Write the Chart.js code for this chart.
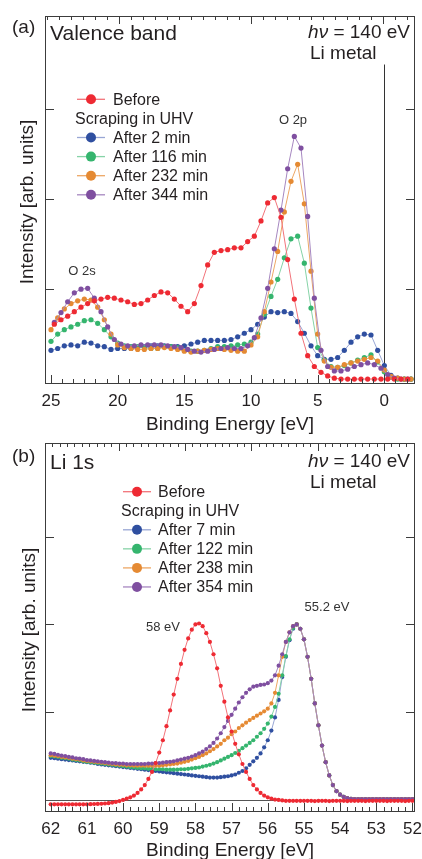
<!DOCTYPE html>
<html>
<head>
<meta charset="utf-8">
<script src="https://cdn.jsdelivr.net/npm/chart.js@4.4.1/dist/chart.umd.min.js"></script>
<style>
  html, body { margin: 0; padding: 0; background: #fff; overflow: hidden; }
  #wrap { position: relative; width: 422px; height: 859px; }
  canvas { position: absolute; left: 0; }
</style>
</head>
<body>
<div id="wrap">
  <canvas id="chartA" width="422" height="445" style="top:0;width:422px;height:445px;z-index:1"></canvas>
  <canvas id="chartB" width="422" height="429" style="top:430px;width:422px;height:429px;z-index:2"></canvas>
</div>
<script>
// ---------- panel (a): valence band ----------
const energyA = [25, 24.5, 24, 23.5, 23, 22.5, 22, 21.5, 21, 20.5,
  20, 19.5, 19, 18.5, 18, 17.5, 17, 16.5, 16, 15.5,
  15, 14.5, 14, 13.5, 13, 12.5, 12, 11.5, 11, 10.5,
  10, 9.5, 9, 8.5, 8, 7.5, 7, 6.5, 6, 5.5,
  5, 4.5, 4, 3.5, 3, 2.5, 2, 1.5, 1, 0.5,
  0, -0.5, -1, -1.5, -2];
const energyAShift = [24.75, 24.25, 23.75, 23.25, 22.75, 22.25, 21.75, 21.25, 20.75, 20.25,
  19.75, 19.25, 18.75, 18.25, 17.75, 17.25, 16.75, 16.25, 15.75, 15.25,
  14.75, 14.25, 13.75, 13.25, 12.75, 12.25, 11.75, 11.25, 10.75, 10.25,
  9.75, 9.25, 8.75, 8.25, 7.75, 7.25, 6.75, 6.25, 5.75, 5.25,
  4.75, 4.25, 3.75, 3.25, 2.75, 2.25, 1.75, 1.25, 0.75, 0.25,
  -0.25, -0.75, -1.25, -1.75];

const beforeA = [0.61, 0.66, 0.70, 0.75, 0.80, 0.84, 0.87, 0.89, 0.91, 0.90,
  0.88, 0.86, 0.83, 0.84, 0.88, 0.93, 0.97, 0.96, 0.89, 0.81,
  0.75, 0.84, 1.04, 1.27, 1.41, 1.43, 1.44, 1.46, 1.46, 1.53,
  1.59, 1.76, 1.96, 2.02, 1.80, 1.33, 0.89, 0.51, 0.26, 0.14,
  0.075, 0.035, 0.01, 0, 0, 0, 0, 0, 0, 0,
  0, 0, 0, 0];
const after2A = [0.32, 0.34, 0.37, 0.38, 0.37, 0.41, 0.40, 0.37, 0.36, 0.33,
  0.34, 0.34, 0.34, 0.35, 0.36, 0.37, 0.37, 0.37, 0.36, 0.36,
  0.37, 0.39, 0.41, 0.43, 0.43, 0.43, 0.43, 0.44, 0.47, 0.51,
  0.55, 0.61, 0.69, 0.75, 0.74, 0.75, 0.73, 0.64, 0.51, 0.37,
  0.26, 0.22, 0.22, 0.24, 0.32, 0.41, 0.47, 0.50, 0.49, 0.32,
  0.15, 0.04, 0.01, 0, 0];
const after116A = [0.42, 0.50, 0.55, 0.58, 0.61, 0.65, 0.66, 0.62, 0.55, 0.47,
  0.40, 0.37, 0.36, 0.36, 0.35, 0.34, 0.34, 0.36, 0.36, 0.35,
  0.32, 0.31, 0.31, 0.32, 0.34, 0.36, 0.36, 0.37, 0.38, 0.39,
  0.41, 0.50, 0.72, 0.92, 1.11, 1.35, 1.56, 1.59, 1.29, 0.79,
  0.35, 0.21, 0.14, 0.13, 0.15, 0.18, 0.21, 0.24, 0.27, 0.19,
  0.08, 0.02, 0, 0, 0];
const after232A = [0.55, 0.68, 0.78, 0.84, 0.87, 0.89, 0.88, 0.80, 0.66, 0.50,
  0.38, 0.35, 0.34, 0.33, 0.33, 0.34, 0.34, 0.35, 0.34, 0.33,
  0.31, 0.30, 0.31, 0.32, 0.33, 0.34, 0.33, 0.32, 0.31, 0.31,
  0.38, 0.47, 0.75, 1.08, 1.42, 1.86, 2.20, 2.39, 1.95, 1.20,
  0.50, 0.20, 0.13, 0.13, 0.16, 0.18, 0.20, 0.22, 0.24, 0.20,
  0.10, 0.03, 0.01, 0, 0];
const after344A = [0.63, 0.74, 0.86, 0.96, 1.00, 1.01, 0.90, 0.75, 0.58, 0.44,
  0.39, 0.37, 0.37, 0.38, 0.38, 0.38, 0.38, 0.37, 0.36, 0.35,
  0.33, 0.31, 0.30, 0.31, 0.33, 0.34, 0.35, 0.34, 0.34, 0.37,
  0.46, 0.68, 1.01, 1.45, 1.88, 2.34, 2.70, 2.57, 1.81, 0.90,
  0.32, 0.14, 0.09, 0.09, 0.11, 0.14, 0.16, 0.18, 0.16, 0.12,
  0.05, 0.01, 0, 0];

const labelsA = ["Before", "After 2 min", "After 116 min", "After 232 min", "After 344 min"];
const xTickLabelsA = [25, 20, 15, 10, 5, 0];

// ---------- panel (b): Li 1s ----------
const energyB = [62.0, 61.9, 61.8, 61.7, 61.6, 61.5, 61.4, 61.3, 61.2, 61.1,
  61.0, 60.9, 60.8, 60.7, 60.6, 60.5, 60.4, 60.3, 60.2, 60.1,
  60.0, 59.9, 59.8, 59.7, 59.6, 59.5, 59.4, 59.3, 59.2, 59.1,
  59.0, 58.9, 58.8, 58.7, 58.6, 58.5, 58.4, 58.3, 58.2, 58.1,
  58.0, 57.9, 57.8, 57.7, 57.6, 57.5, 57.4, 57.3, 57.2, 57.1,
  57.0, 56.9, 56.8, 56.7, 56.6, 56.5, 56.4, 56.3, 56.2, 56.1,
  56.0, 55.9, 55.8, 55.7, 55.6, 55.5, 55.4, 55.3, 55.2, 55.1,
  55.0, 54.9, 54.8, 54.7, 54.6, 54.5, 54.4, 54.3, 54.2, 54.1,
  54.0, 53.9, 53.8, 53.7, 53.6, 53.5, 53.4, 53.3, 53.2, 53.1,
  53.0, 52.9, 52.8, 52.7, 52.6, 52.5, 52.4, 52.3, 52.2, 52.1,
  52.0];

const beforeB = [-0.05, -0.05, -0.05, -0.05, -0.05, -0.05, -0.05, -0.05, -0.05, -0.05,
  -0.05, -0.048, -0.046, -0.045, -0.043, -0.04, -0.036, -0.03, -0.022, -0.012,
  0.0, 0.015, 0.03, 0.05, 0.08, 0.12, 0.17, 0.24, 0.32, 0.42,
  0.54, 0.68, 0.84, 1.02, 1.20, 1.38, 1.55, 1.71, 1.84, 1.94,
  2.00, 2.01, 1.98, 1.90, 1.80, 1.66, 1.50, 1.30, 1.12, 0.94,
  0.78, 0.64, 0.52, 0.41, 0.32, 0.24, 0.17, 0.12, 0.08, 0.05,
  0.03, 0.015, 0.005, 0.0, -0.005, -0.01, -0.01, -0.01, -0.01, -0.01,
  -0.01, -0.01, -0.01, -0.012, -0.01, -0.01, -0.01, -0.012, -0.01, -0.01,
  -0.01, -0.01, -0.012, -0.01, -0.01, -0.01, -0.01, -0.012, -0.01, -0.01,
  -0.01, -0.01, -0.01, -0.012, -0.01, -0.01, -0.01, -0.01, -0.012, -0.01,
  -0.01];
const after7B = [0.48, 0.475, 0.47, 0.465, 0.46, 0.455, 0.45, 0.445, 0.44, 0.435,
  0.43, 0.425, 0.42, 0.41, 0.405, 0.40, 0.395, 0.39, 0.385, 0.38,
  0.375, 0.37, 0.365, 0.36, 0.355, 0.35, 0.345, 0.34, 0.335, 0.33,
  0.325, 0.32, 0.315, 0.31, 0.305, 0.30, 0.295, 0.29, 0.285, 0.28,
  0.275, 0.27, 0.265, 0.26, 0.255, 0.255, 0.255, 0.26, 0.265, 0.27,
  0.28, 0.29, 0.31, 0.33, 0.36, 0.40, 0.44, 0.48, 0.53, 0.60,
  0.68, 0.79, 0.94, 1.14, 1.40, 1.63, 1.82, 1.95, 2.00, 1.95,
  1.83, 1.63, 1.38, 1.10, 0.85, 0.62, 0.43, 0.28, 0.17, 0.10,
  0.06, 0.035, 0.02, 0.012, 0.01, 0.01, 0.01, 0.01, 0.01, 0.01,
  0.01, 0.01, 0.01, 0.01, 0.01, 0.01, 0.01, 0.01, 0.01, 0.01,
  0.01];
const after122B = [0.50, 0.495, 0.49, 0.48, 0.475, 0.47, 0.46, 0.455, 0.45, 0.44,
  0.435, 0.43, 0.425, 0.42, 0.415, 0.41, 0.405, 0.40, 0.395, 0.39,
  0.385, 0.38, 0.375, 0.37, 0.365, 0.36, 0.36, 0.355, 0.355, 0.35,
  0.35, 0.35, 0.345, 0.345, 0.345, 0.345, 0.35, 0.35, 0.355, 0.36,
  0.365, 0.37, 0.38, 0.39, 0.40, 0.415, 0.43, 0.45, 0.47, 0.49,
  0.51, 0.535, 0.56, 0.59, 0.62, 0.65, 0.68, 0.72, 0.76, 0.81,
  0.87, 0.95, 1.06, 1.21, 1.42, 1.64, 1.83, 1.96, 2.00, 1.95,
  1.83, 1.63, 1.38, 1.10, 0.85, 0.62, 0.43, 0.28, 0.17, 0.10,
  0.06, 0.035, 0.02, 0.012, 0.01, 0.01, 0.01, 0.01, 0.01, 0.01,
  0.01, 0.01, 0.01, 0.01, 0.01, 0.01, 0.01, 0.01, 0.01, 0.01,
  0.01];
const after238B = [0.51, 0.505, 0.50, 0.49, 0.485, 0.48, 0.47, 0.465, 0.46, 0.45,
  0.445, 0.44, 0.435, 0.43, 0.425, 0.42, 0.415, 0.41, 0.405, 0.40,
  0.40, 0.395, 0.395, 0.39, 0.39, 0.39, 0.39, 0.39, 0.39, 0.39,
  0.39, 0.395, 0.40, 0.405, 0.41, 0.415, 0.425, 0.435, 0.445, 0.46,
  0.475, 0.49, 0.51, 0.53, 0.555, 0.58, 0.61, 0.64, 0.68, 0.71,
  0.75, 0.78, 0.82, 0.85, 0.88, 0.91, 0.935, 0.96, 0.985, 1.01,
  1.04, 1.10, 1.22, 1.42, 1.63, 1.80, 1.91, 1.98, 2.00, 1.95,
  1.83, 1.63, 1.38, 1.10, 0.85, 0.62, 0.43, 0.28, 0.17, 0.10,
  0.06, 0.035, 0.02, 0.012, 0.01, 0.01, 0.01, 0.01, 0.01, 0.01,
  0.01, 0.01, 0.01, 0.01, 0.01, 0.01, 0.01, 0.01, 0.01, 0.01,
  0.01];
const after354B = [0.53, 0.525, 0.515, 0.505, 0.50, 0.49, 0.485, 0.475, 0.47, 0.465,
  0.455, 0.45, 0.445, 0.44, 0.435, 0.43, 0.425, 0.42, 0.42, 0.415,
  0.415, 0.41, 0.41, 0.41, 0.41, 0.41, 0.41, 0.415, 0.415, 0.42,
  0.42, 0.425, 0.43, 0.435, 0.44, 0.45, 0.46, 0.47, 0.48, 0.495,
  0.51, 0.53, 0.55, 0.58, 0.61, 0.65, 0.70, 0.76, 0.83, 0.90,
  0.97, 1.04, 1.11, 1.17, 1.22, 1.26, 1.29, 1.30, 1.31, 1.315,
  1.33, 1.36, 1.42, 1.53, 1.66, 1.80, 1.91, 1.98, 2.00, 1.95,
  1.83, 1.63, 1.38, 1.10, 0.85, 0.62, 0.43, 0.28, 0.17, 0.10,
  0.06, 0.035, 0.02, 0.012, 0.01, 0.01, 0.01, 0.01, 0.01, 0.01,
  0.01, 0.01, 0.01, 0.01, 0.01, 0.01, 0.01, 0.01, 0.01, 0.01,
  0.01];

const labelsB = ["Before", "After 7 min", "After 122 min", "After 238 min", "After 354 min"];
const xTickLabelsB = [62, 61, 60, 59, 58, 57, 56, 55, 54, 53, 52];
const yTicks = [1, 2, 3];

// ---------- styling ----------
const FONT = '"Liberation Sans", Arial, Helvetica, sans-serif';
const TEXT = "#231f20";
const FRAME = "#3c3c3c";
// order: before, 1st, 2nd, 3rd, 4th scraping
const colors = ["#ee2a33", "#2f4fa0", "#35b56e", "#e58a33", "#7f4fa0"];
const lineColors = ["#f2737a", "#98a6d4", "#86d3a7", "#eda765", "#a687c0"];

function series(xs, ys, i, r) {
  return {
    label: i,
    data: xs.map((x, k) => ({ x: x, y: ys[k] })),
    borderColor: lineColors[i],
    borderWidth: 1,
    pointBackgroundColor: colors[i],
    pointBorderWidth: 0,
    pointRadius: r,
    tension: 0,
    fill: false
  };
}

// legend block with the "Scraping in UHV" line after the first row
function drawLegend(ctx, lg, labels) {
  ctx.save();
  ctx.font = "16px " + FONT;
  ctx.textBaseline = "middle";
  ctx.fillStyle = TEXT;
  const rows = [0, 2, 3, 4, 5];
  labels.forEach((txt, i) => {
    const y = lg.y0 + rows[i] * lg.step;
    ctx.strokeStyle = lineColors[i];
    ctx.lineWidth = 1.3;
    ctx.beginPath();
    ctx.moveTo(lg.mx - 14, y);
    ctx.lineTo(lg.mx + 14, y);
    ctx.stroke();
    ctx.fillStyle = colors[i];
    ctx.beginPath();
    ctx.arc(lg.mx, y, 5, 0, Math.PI * 2);
    ctx.fill();
    ctx.fillStyle = TEXT;
    ctx.fillText(txt, lg.tx, y + 1);
  });
  ctx.fillText("Scraping in UHV", lg.sx, lg.y0 + lg.step + 1);
  ctx.restore();
}

function drawHv(ctx, right, y) {
  ctx.save();
  ctx.fillStyle = TEXT;
  ctx.textBaseline = "alphabetic";
  ctx.font = "italic 19px " + FONT;
  const w1 = ctx.measureText("hν").width;
  ctx.font = "19px " + FONT;
  const rest = " = 140 eV";
  const w2 = ctx.measureText(rest).width;
  ctx.font = "italic 19px " + FONT;
  ctx.fillText("hν", right - w1 - w2, y);
  ctx.font = "19px " + FONT;
  ctx.fillText(rest, right - w2, y);
  ctx.restore();
}

function decorPlugin(p) {
  return {
    id: "decor" + p.key,
    beforeDatasetsDraw(chart) {
      const { ctx, chartArea: a, scales } = chart;
      ctx.save();
      ctx.lineWidth = 1;
      if (p.zeroLine) {
        const y0 = Math.round(scales.y.getPixelForValue(0)) + 0.5;
        ctx.strokeStyle = "#555";
        ctx.beginPath();
        ctx.moveTo(a.left, y0);
        ctx.lineTo(a.right, y0);
        ctx.stroke();
      }
      if (p.fermi) {
        const xf = Math.round(scales.x.getPixelForValue(0)) + 0.5;
        ctx.strokeStyle = "#333";
        ctx.beginPath();
        ctx.moveTo(xf, scales.y.getPixelForValue(p.fermi));
        ctx.lineTo(xf, a.bottom);
        ctx.stroke();
      }
      ctx.restore();
    },
    afterDraw(chart) {
      const { ctx, chartArea: a, scales } = chart;
      const xs = scales.x, ys = scales.y, xt = scales.xTop;
      ctx.save();
      ctx.strokeStyle = FRAME;
      ctx.lineWidth = 1;
      ctx.strokeRect(a.left + 0.5, a.top + 0.5, a.right - a.left - 1, a.bottom - a.top - 1);

      ctx.beginPath();
      // bottom ticks (inward)
      p.bottomTicks.forEach(t => {
        const x = Math.round(xs.getPixelForValue(t.v)) + 0.5;
        ctx.moveTo(x, a.bottom);
        ctx.lineTo(x, a.bottom - (t.major ? 9 : 5));
      });
      // top ticks (inward)
      p.topTicks.forEach(t => {
        const x = Math.round(xt.getPixelForValue(t.v)) + 0.5;
        ctx.moveTo(x, a.top);
        ctx.lineTo(x, a.top + (t.major ? 8 : 4));
      });
      // y ticks on both sides
      yTicks.forEach(v => {
        const y = Math.round(ys.getPixelForValue(v)) + 0.5;
        ctx.moveTo(a.left, y);
        ctx.lineTo(a.left + 9, y);
        ctx.moveTo(a.right, y);
        ctx.lineTo(a.right - 9, y);
      });
      ctx.stroke();

      // tick labels
      ctx.fillStyle = TEXT;
      ctx.font = "17px " + FONT;
      ctx.textAlign = "center";
      ctx.textBaseline = "alphabetic";
      p.tickLabels.forEach(v => {
        ctx.fillText(String(v), xs.getPixelForValue(v), p.tickBase);
      });

      // axis titles
      ctx.font = "19px " + FONT;
      ctx.fillText("Binding Energy [eV]", (a.left + a.right) / 2, p.xTitleBase);
      ctx.save();
      ctx.translate(p.yTitle[0], p.yTitle[1]);
      ctx.rotate(-Math.PI / 2);
      ctx.textBaseline = "middle";
      ctx.fillText("Intensity [arb. units]", 0, 0);
      ctx.restore();

      // panel texts
      ctx.textAlign = "left";
      ctx.font = "19px " + FONT;
      ctx.fillText(p.tag, 12, p.tagBase);
      ctx.font = "21px " + FONT;
      ctx.fillText(p.title, 50, p.titleBase);
      drawHv(ctx, 410, p.hvBase);
      ctx.font = "19px " + FONT;
      ctx.fillText("Li metal", 310, p.hvBase + 21);

      ctx.font = "13px " + FONT;
      ctx.fillStyle = "#333";
      ctx.textAlign = "center";
      ctx.textBaseline = "middle";
      p.notes.forEach(n => ctx.fillText(n.text, n.x, n.y));
      ctx.restore();

      drawLegend(ctx, p.legend, p.labels);
    }
  };
}

function makeChart(id, datasets, p) {
  return new Chart(document.getElementById(id), {
    type: "line",
    data: { datasets: datasets },
    options: {
      responsive: false,
      animation: false,
      events: [],
      layout: { padding: p.padding },
      plugins: { legend: { display: false }, tooltip: { enabled: false } },
      scales: {
        x: { type: "linear", reverse: true, min: p.xMin, max: p.xMax, display: false },
        y: { type: "linear", min: p.yMin, max: p.yMax, display: false },
        xTop: { type: "linear", position: "top", min: p.topMin, max: p.topMax, display: false }
      }
    },
    plugins: [decorPlugin(p)]
  });
}

// tick lists for the frame
const bottomTicksA = [];
for (let k = 0; 25 - k * 5 / 6 >= -2.3; k++) bottomTicksA.push({ v: 25 - k * 5 / 6, major: k % 6 === 0 });
const topTicksA = [];
for (let v = 0; v <= 30; v++) topTicksA.push({ v: v, major: (v - 6) % 11 === 0 });
const bottomTicksB = [];
for (let k = 0; k <= 50; k++) bottomTicksB.push({ v: 62 - k * 0.2, major: k % 5 === 0 });
const topTicksB = [];
for (let v = 0; v <= 50; v++) topTicksB.push({ v: v, major: v >= 10 && (v - 10) % 9 === 0 });

// panel (a)
makeChart("chartA", [
  series(energyAShift, beforeA, 0, 2.6),
  series(energyAShift, after344A, 4, 2.6),
  series(energyA, after232A, 3, 2.6),
  series(energyA, after116A, 2, 2.6),
  series(energyA, after2A, 1, 2.6)
], {
  key: "A",
  padding: { left: 45, right: 7, top: 16, bottom: 61 },
  xMin: -2.3, xMax: 25.45, yMin: -0.055, yMax: 4.04,
  topMin: -0.2, topMax: 30.63,
  bottomTicks: bottomTicksA, topTicks: topTicksA,
  tickLabels: xTickLabelsA, tickBase: 406, xTitleBase: 430,
  yTitle: [28, 202],
  fermi: 3.5, zeroLine: false,
  tag: "(a)", tagBase: 33, title: "Valence band", titleBase: 40, hvBase: 38,
  notes: [{ text: "O 2p", x: 293, y: 120 }, { text: "O 2s", x: 82, y: 271 }],
  legend: { y0: 99.3, step: 19.1, mx: 91, tx: 113, sx: 75 },
  labels: labelsA
});

// panel (b)
makeChart("chartB", [
  series(energyB, beforeB, 0, 2.1),
  series(energyB, after354B, 4, 2.1),
  series(energyB, after238B, 3, 2.1),
  series(energyB, after122B, 2, 2.1),
  series(energyB, after7B, 1, 2.1)
], {
  key: "B",
  padding: { left: 45, right: 7, top: 13, bottom: 47 },
  xMin: 51.93, xMax: 62.158, yMin: -0.137, yMax: 4.066,
  topMin: 0, topMax: 50.2,
  bottomTicks: bottomTicksB, topTicks: topTicksB,
  tickLabels: xTickLabelsB, tickBase: 403.5, xTitleBase: 426,
  yTitle: [30, 200],
  fermi: 0, zeroLine: true,
  tag: "(b)", tagBase: 31.5, title: "Li 1s", titleBase: 39.3, hvBase: 36.7,
  notes: [{ text: "58 eV", x: 163, y: 197 }, { text: "55.2 eV", x: 327, y: 177.5 }],
  legend: { y0: 61.7, step: 19.05, mx: 137, tx: 158, sx: 121 },
  labels: labelsB
});
</script>
</body>
</html>
